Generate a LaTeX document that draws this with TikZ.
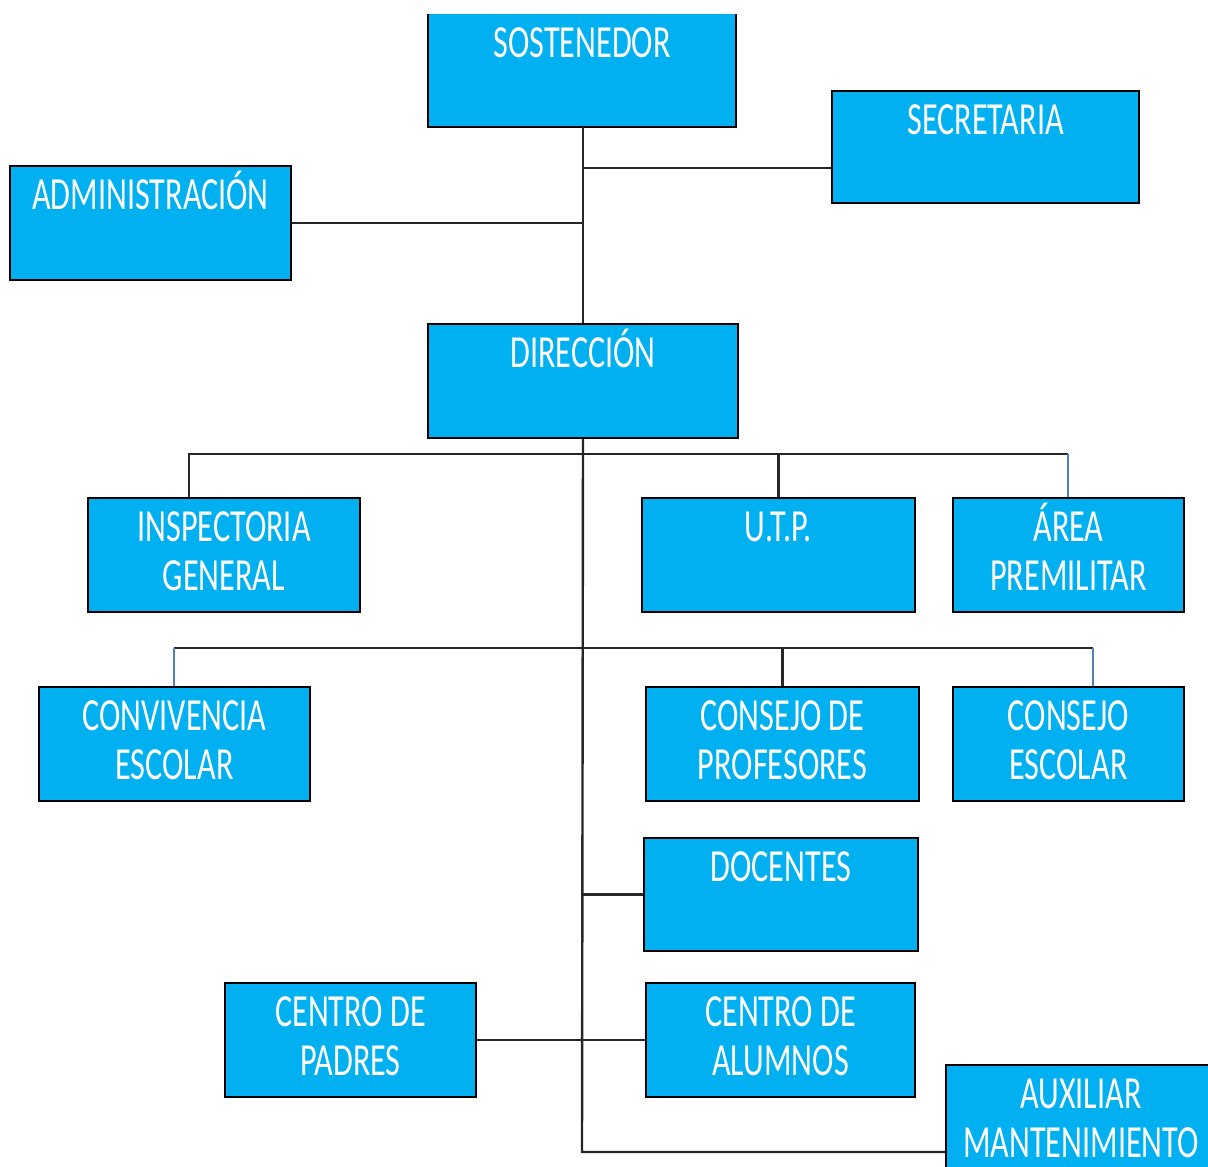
\documentclass[tikz,border=0pt]{standalone}
\usepackage{fontspec}
\usepackage{tikz}
\newfontfamily\orgfont[FakeStretch=0.7]{Carlito}
\definecolor{cajafill}{HTML}{00B0F0}
\definecolor{linea}{HTML}{262626}
\definecolor{lineaazul}{HTML}{4F81BD}
\newcommand{\caja}[3]{\parbox[t][#2][t]{#1}{\centering\orgfont\fontsize{46}{49}\selectfont\rule{0pt}{43pt}#3}}

\begin{document}
\begin{tikzpicture}[x=1pt,y=-1pt]
\tikzstyle{unidad}=[draw=black,line width=2pt,fill=cajafill,text=white,inner sep=0pt,anchor=north west]
\tikzstyle{tope}=[fill=cajafill,text=white,inner sep=0pt,anchor=north west]
\tikzstyle{conector}=[draw=linea,line width=2.4pt]
\tikzstyle{bajada}=[draw=lineaazul,line width=1.6pt]
\useasboundingbox (0,0) rectangle (1208,1167);
\node[tope] (sost) at (428,14) {\caja{308pt}{113pt}{SOSTENEDOR}};
\draw[line width=2pt] (sost.north west) -- (sost.south west) -- (sost.south east) -- (sost.north east);
\node[unidad] (sec) at (831,90) {\caja{307pt}{112pt}{SECRETARIA}};
\node[unidad] (adm) at (9,165) {\caja{281pt}{114pt}{ADMINISTRACIÓN}};
\node[unidad] (dir) at (427,323) {\caja{310pt}{114pt}{DIRECCIÓN}};
\node[unidad] (insp) at (87,497) {\caja{272pt}{114pt}{INSPECTORIA\\GENERAL}};
\node[unidad] (utp) at (641,497) {\caja{273pt}{114pt}{U.T.P.}};
\node[unidad] (area) at (952,497) {\caja{231pt}{114pt}{ÁREA\\PREMILITAR}};
\node[unidad] (conv) at (38,686) {\caja{271pt}{114pt}{CONVIVENCIA\\ESCOLAR}};
\node[unidad] (prof) at (645,686) {\caja{273pt}{114pt}{CONSEJO DE\\PROFESORES}};
\node[unidad] (cesc) at (952,686) {\caja{231pt}{114pt}{CONSEJO\\ESCOLAR}};
\node[unidad] (doc) at (643,837) {\caja{274pt}{113pt}{DOCENTES}};
\node[unidad] (pad) at (224,982) {\caja{251pt}{114pt}{CENTRO DE\\PADRES}};
\node[unidad] (alu) at (645,982) {\caja{269pt}{114pt}{CENTRO DE\\ALUMNOS}};
\node[unidad] (aux) at (945,1064) {\caja{270pt}{114pt}{AUXILIAR\\MANTENIMIENTO}};
\coordinate (trsec) at (582,168);
\coordinate (b1l) at (189,454);
\coordinate (b1r) at (1068,454);
\coordinate (b2l) at (174,648);
\coordinate (b2r) at (1093,648);
\coordinate (fondo) at (582,1152);
\draw[conector] (sost.south -| dir.north) -- (dir.north);
\draw[conector] (trsec) -- (trsec -| sec.west);
\draw[conector] (adm.east) -- (adm.east -| dir.north);
\draw[conector] (dir.south) -- (fondo) -- (fondo -| aux.west);
\draw[conector] (insp.north -| b1l) -- (b1l) -- (b1r);
\draw[conector] (utp.north) -- (utp.north |- b1l);
\draw[bajada] (b1r) -- (area.north -| b1r);
\draw[conector] (b2l) -- (b2r);
\draw[bajada] (b2l) -- (conv.north -| b2l);
\draw[conector] (prof.north) -- (prof.north |- b2l);
\draw[bajada] (b2r) -- (cesc.north -| b2r);
\draw[conector] (doc.west) -- (doc.west -| dir.south);
\draw[conector] (pad.east) -- (alu.west);
\end{tikzpicture}
\end{document}
